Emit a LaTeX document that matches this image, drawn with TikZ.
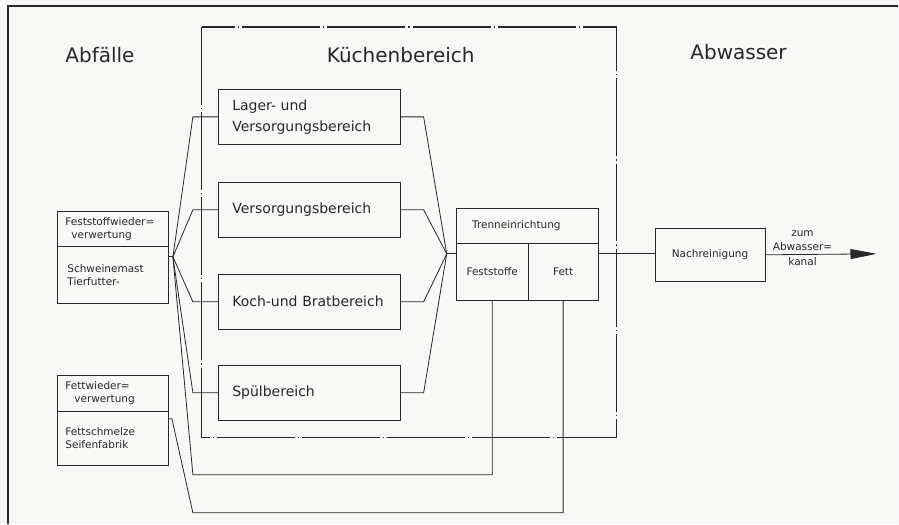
\documentclass[tikz,border=0pt]{standalone}
\usepackage{fontspec}
\setmainfont{DejaVu Sans}
\usetikzlibrary{arrows.meta}
\definecolor{papier}{RGB}{248,248,246}
\definecolor{tusche}{RGB}{40,40,40}

\begin{document}
\begin{tikzpicture}[x=1pt,y=-1pt,text=tusche,
    linie/.style={draw=tusche,line width=0.8pt},
    kasten/.style={draw=tusche,line width=0.9pt,inner sep=0pt,anchor=north west},
    bereich/.style={kasten,minimum height=55pt,text width=154pt,inner xsep=14pt,align=left,font=\fontsize{14}{21}\selectfont},
    zelle/.style={kasten,align=left,font=\fontsize{10.5}{13}\selectfont},
    titel/.style={font=\fontsize{20}{24}\selectfont},
    strichpunkt/.style={draw=tusche,line width=1.2pt,dash pattern=on 78pt off 3pt on 1.2pt off 3pt}]
  \fill[papier] (0,0) rectangle (899,524);
  \draw[linie,line width=1.1pt] (8,524) -- (8,6) -- (899,6);
  \draw[strichpunkt] (202,27) rectangle (617,438);

  \node[titel] (abfaelle) at (100,55) {Abfälle};
  \node[titel] (kueche) at (401,55) {Küchenbereich};
  \node[titel] (abwasser) at (739,52) {Abwasser};

  \node[bereich] (lager) at (218,89) {Lager- und\\Versorgungsbereich};
  \node[bereich] (versorgung) at (218,182) {Versorgungsbereich};
  \node[bereich] (koch) at (218,274) {Koch-und Bratbereich};
  \node[bereich] (spuel) at (218,365) {Spülbereich};

  \node[zelle,minimum height=35pt,text width=95pt,inner xsep=8pt] (feststoffw) at (57,211) {Feststoffwieder=\\\hspace*{6pt}verwertung};
  \node[zelle,minimum height=57pt,text width=91pt,inner xsep=10pt] (schweinemast) at (57,246) {Schweinemast\\Tierfutter-};
  \node[zelle,minimum height=36pt,text width=95pt,inner xsep=8pt] (fettw) at (57,375) {Fettwieder=\\\hspace*{9pt}verwertung};
  \node[zelle,minimum height=54pt,text width=95pt,inner xsep=8pt] (fettschmelze) at (57,411) {Fettschmelze\\Seifenfabrik};

  \node[zelle,minimum height=35pt,text width=110pt,inner xsep=16pt] (trenn) at (456,208) {Trenneinrichtung};
  \node[zelle,minimum height=57pt,minimum width=72pt,align=center] (feststoffe) at (456,243) {Feststoffe};
  \node[zelle,minimum height=57pt,minimum width=70pt,align=center] (fett) at (528,243) {Fett};

  \node[zelle,minimum height=53pt,minimum width=110pt,align=center] (nach) at (655,228) {Nachreinigung};
  \node[font=\fontsize{10.5}{14.5}\selectfont,align=center] (zum) at (803,248) {zum\\Abwasser=\\kanal};

  \coordinate (hubL) at (173,257);
  \coordinate (hubR) at (447,254);
  \coordinate (rueckF) at (193,475);
  \coordinate (rueckT) at (193,513);
  \coordinate (fettAus) at (172,419);
  \coordinate (kanal) at (877,254);

  \draw[linie] (hubL -| schweinemast.east) -- (hubL);
  \foreach \b in {lager,versorgung,koch,spuel} {
    \draw[linie] (hubL) -- ([xshift=-25pt]\b.west) -- (\b.west);
    \draw[linie] (\b.east) -- ([xshift=23pt]\b.east) -- (hubR);
  }
  \draw[linie] (hubR) -- (hubR -| feststoffe.west);
  \draw[linie] (hubL) -- (rueckF) -| (feststoffe.south);
  \draw[linie] (fettAus -| fettschmelze.east) -- (fettAus) -- (rueckT) -| (fett.south);
  \draw[linie] (hubR -| fett.east) -- (hubR -| nach.west);
  \draw[linie,-{Triangle[length=26pt,width=10pt]}] (nach.east) -- (kanal);
\end{tikzpicture}
\end{document}
